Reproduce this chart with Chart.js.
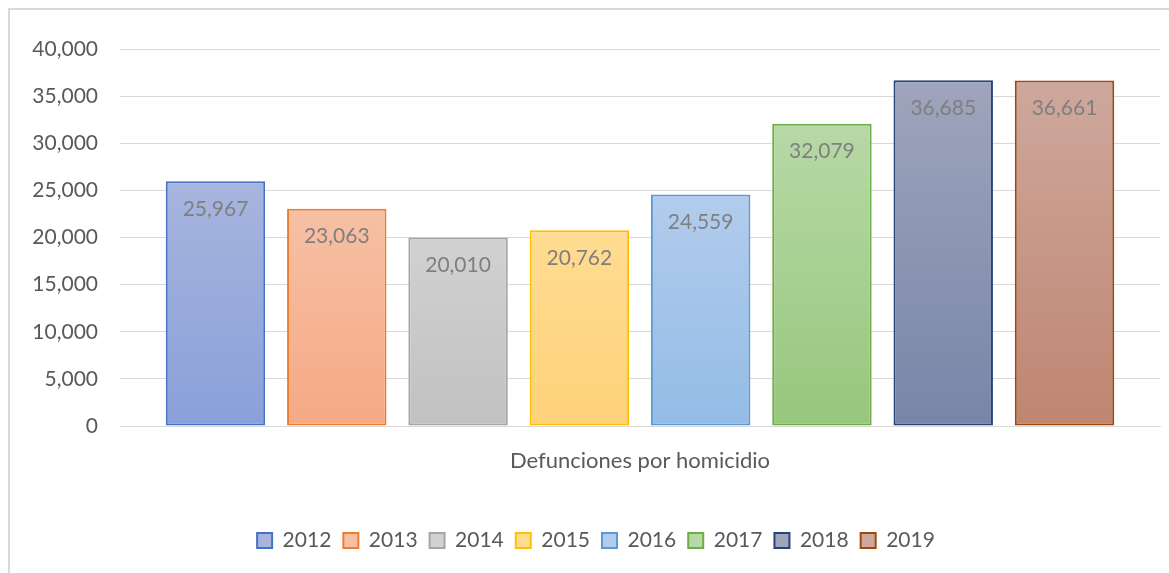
<!DOCTYPE html>
<html>
<head>
<meta charset="utf-8">
<script src="https://cdn.jsdelivr.net/npm/chart.js@4.4.1/dist/chart.umd.min.js"></script>
<style>
  html, body { margin: 0; padding: 0; background: #fff; overflow: hidden; }
  #wrap { position: relative; width: 1169px; height: 573px; }
  #frame { position: absolute; left: 8px; top: 8px; width: 1200px; height: 600px; border: 2px solid #d9d9d9; box-sizing: border-box; }
  canvas { position: absolute; left: 0; top: 0; }
</style>
</head>
<body>
<div id="wrap">
  <div id="frame"></div>
  <canvas id="chart" width="1169" height="573"></canvas>
</div>
<script>
const categories = ['Defunciones por homicidio'];
const years = ['2012', '2013', '2014', '2015', '2016', '2017', '2018', '2019'];
const values = [25967, 23063, 20010, 20762, 24559, 32079, 36685, 36661];
const yTicks = [0, 5000, 10000, 15000, 20000, 25000, 30000, 35000, 40000];

// border, gradient top, gradient bottom
const borders = ['#4472c4', '#ed7d31', '#a5a5a5', '#ffc000', '#5b9bd5', '#70ad47', '#264478', '#9e480e'];
const tops = ['#a7b5de', '#f7c0a4', '#d1d1d1', '#ffdc92', '#b2ccec', '#b7d9a6', '#9ea5bc', '#cea89d'];
const bottoms = ['#8aa0d8', '#f5a985', '#c1c1c1', '#ffd27a', '#93bce6', '#97c67c', '#7985a8', '#bf8571'];

const font = 'Lato, "Open Sans", sans-serif';

const gradFill = (i) => (ctx) => {
  const c = ctx.chart;
  if (!c.chartArea || ctx.dataIndex === undefined) return tops[i];
  const y = c.scales.y;
  const g = c.ctx.createLinearGradient(0, y.getPixelForValue(ctx.parsed.y), 0, y.getPixelForValue(0));
  g.addColorStop(0, tops[i]);
  g.addColorStop(1, bottoms[i]);
  return g;
};

const valueLabels = {
  id: 'valueLabels',
  afterDatasetsDraw(chart) {
    const ctx = chart.ctx;
    ctx.save();
    ctx.font = '21px ' + font;
    ctx.fillStyle = '#7f7f7f';
    ctx.textAlign = 'center';
    ctx.textBaseline = 'middle';
    chart.data.datasets.forEach((ds, i) => {
      const bar = chart.getDatasetMeta(i).data[0];
      ctx.fillText(ds.data[0].toLocaleString('en-US'), bar.x, bar.y + 28);
    });
    ctx.restore();
  }
};

new Chart(document.getElementById('chart'), {
  type: 'bar',
  data: {
    labels: categories,
    datasets: years.map((yr, i) => ({
      label: yr,
      data: [values[i]],
      backgroundColor: gradFill(i),
      borderColor: borders[i],
      borderWidth: 2,
      borderSkipped: false,
      barPercentage: 0.82,
      categoryPercentage: 0.933
    }))
  },
  options: {
    responsive: false,
    animation: false,
    layout: { padding: { left: 32, right: 9, top: 49, bottom: 12 } },
    plugins: {
      tooltip: { enabled: false },
      legend: {
        position: 'bottom',
        labels: {
          boxWidth: 15,
          boxHeight: 15,
          padding: 12,
          color: '#595959',
          font: { family: font, size: 21 },
          generateLabels: (chart) => chart.data.datasets.map((ds, i) => ({
            text: ds.label,
            fillStyle: tops[i],
            strokeStyle: borders[i],
            lineWidth: 2,
            fontColor: '#595959',
            datasetIndex: i,
            hidden: false
          }))
        }
      }
    },
    scales: {
      x: {
        grid: { display: false, drawTicks: false },
        border: { color: '#d9d9d9', width: 1 },
        ticks: { color: '#595959', padding: 22, font: { family: font, size: 22 } },
        afterFit: (s) => { s.height = 92; }
      },
      y: {
        min: 0,
        max: 40000,
        afterBuildTicks: (s) => { s.ticks = yTicks.map(v => ({ value: v })); },
        grid: { color: '#d9d9d9', lineWidth: 1, drawTicks: false },
        border: { display: false },
        ticks: {
          color: '#595959',
          padding: 22,
          font: { family: font, size: 21 },
          callback: (v) => v.toLocaleString('en-US')
        },
        afterFit: (s) => { s.width = 88; }
      }
    }
  },
  plugins: [valueLabels]
});
</script>
</body>
</html>
